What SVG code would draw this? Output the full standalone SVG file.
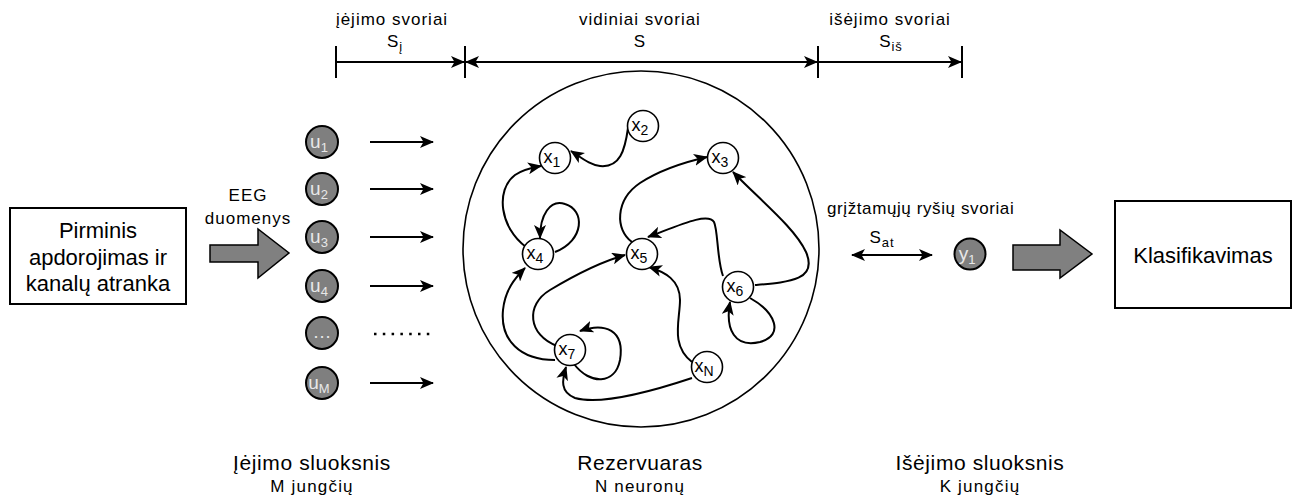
<svg xmlns="http://www.w3.org/2000/svg" width="1305" height="499" viewBox="0 0 1305 499">
<style>
text{font-family:"Liberation Sans",Arial,sans-serif;fill:#000}
.lbl{font-size:17px;text-anchor:middle;letter-spacing:1px}
.big{font-size:22px;text-anchor:middle}
.bot{font-size:21px;text-anchor:middle;letter-spacing:0.6px}
.sub{font-size:17px;text-anchor:middle;letter-spacing:1.2px}
.edge{fill:none;stroke:#000;stroke-width:2}
.ln{fill:none;stroke:#000;stroke-width:2}
.xn{fill:#fff;stroke:#000;stroke-width:1.6}
.gn{fill:#7f7f7f;stroke:#000;stroke-width:2}
.xt{font-size:18px;text-anchor:middle}
.ut{font-size:19px;text-anchor:middle;fill:#e8e8e8}
.box{fill:#fff;stroke:#000;stroke-width:2}
.fat{fill:#808080;stroke:#000;stroke-width:1.5}
</style>
<defs>
<marker id="ah" viewBox="0 0 14 12" refX="13" refY="6" markerWidth="14" markerHeight="12" markerUnits="userSpaceOnUse" orient="auto-start-reverse">
<path d="M0,0 L14,6 L0,12 L3.5,6 Z" fill="#000"/>
</marker>
</defs>

<g id="weights-bar">
<line class="ln" x1="336" y1="46" x2="336" y2="78"/>
<line class="ln" x1="465" y1="46" x2="465" y2="78"/>
<line class="ln" x1="818" y1="46" x2="818" y2="78"/>
<line class="ln" x1="962" y1="46" x2="962" y2="78"/>
<text class="lbl" x="392" y="25">įėjimo svoriai</text>
<text class="lbl" x="395" y="47">S<tspan font-size="13" dy="4">į</tspan></text>
<text class="lbl" x="640" y="25">vidiniai svoriai</text>
<text class="lbl" x="640" y="47">S</text>
<text class="lbl" x="890" y="25">išėjimo svoriai</text>
<text class="lbl" x="891" y="47">S<tspan font-size="13" dy="4">iš</tspan></text>
</g>

<g id="preproc">
<rect class="box" x="10" y="208" width="176" height="96"/>
<text class="big" x="98" y="238">Pirminis</text>
<text class="big" x="98" y="265">apdorojimas ir</text>
<text class="big" x="98" y="291">kanalų atranka</text>
</g>

<g id="eeg-arrow">
<path class="fat" d="M210,245 L258,245 L258,229 L289,253 L258,278 L258,262 L210,262 Z"/>
<text class="lbl" x="248" y="201">EEG</text>
<text class="lbl" x="248" y="224">duomenys</text>
</g>

<g id="input-layer">
<circle class="gn" cx="322" cy="142" r="16"/><text class="ut" x="319" y="148">u<tspan font-size="13" dy="4">1</tspan></text>
<circle class="gn" cx="322" cy="189" r="16"/><text class="ut" x="319" y="195">u<tspan font-size="13" dy="4">2</tspan></text>
<circle class="gn" cx="322" cy="237" r="16"/><text class="ut" x="319" y="243">u<tspan font-size="13" dy="4">3</tspan></text>
<circle class="gn" cx="322" cy="286" r="16"/><text class="ut" x="319" y="292">u<tspan font-size="13" dy="4">4</tspan></text>
<circle class="gn" cx="322" cy="333" r="16"/><text class="ut" x="322" y="338">…</text>
<circle class="gn" cx="322" cy="383" r="16"/><text class="ut" x="319" y="389">u<tspan font-size="13" dy="4">M</tspan></text>
</g>

<g id="input-arrows">
<line class="edge" x1="370" y1="142" x2="433" y2="142" marker-end="url(#ah)"/>
<line class="edge" x1="370" y1="189" x2="433" y2="189" marker-end="url(#ah)"/>
<line class="edge" x1="370" y1="237" x2="433" y2="237" marker-end="url(#ah)"/>
<line class="edge" x1="370" y1="286" x2="433" y2="286" marker-end="url(#ah)"/>
<line x1="374" y1="334" x2="432" y2="334" stroke="#000" stroke-width="2.5" stroke-dasharray="2.5,6.3"/>
<line class="edge" x1="370" y1="383" x2="433" y2="383" marker-end="url(#ah)"/>
</g>

<g id="top-arrows">
<line class="edge" x1="336" y1="62" x2="464" y2="62" marker-end="url(#ah)"/>
<line class="edge" x1="466" y1="62" x2="817" y2="62" marker-start="url(#ah)" marker-end="url(#ah)"/>
<line class="edge" x1="819" y1="62" x2="961" y2="62" marker-end="url(#ah)"/>
</g>

<g id="reservoir">
<circle cx="641" cy="249" r="178" fill="none" stroke="#000" stroke-width="1.6"/>
</g>

<g id="reservoir-edges">
<path class="edge" d="M628,128 C625,150 620,168 600,166 C590,165 582,158 571,151" marker-end="url(#ah)"/>
<path class="edge" d="M526,247 C500,228 495,190 515,175 C522,170 530,168 541,166" marker-end="url(#ah)"/>
<path class="edge" d="M555,252 C585,240 585,210 565,204 C550,199 540,215 540,238" marker-end="url(#ah)"/>
<path class="edge" d="M555,360 C520,360 500,340 503,310 C505,290 515,278 525,268" marker-end="url(#ah)"/>
<path class="edge" d="M557,346 C528,335 525,305 550,290 C575,275 600,262 625,255" marker-end="url(#ah)"/>
<path class="edge" d="M574,364 C590,385 615,385 620,360 C625,330 605,322 580,331" marker-end="url(#ah)"/>
<path class="edge" d="M692,378 C650,392 600,405 575,398 C560,392 562,380 566,367" marker-end="url(#ah)"/>
<path class="edge" d="M692,362 C670,345 680,320 680,300 C680,280 665,272 649,267" marker-end="url(#ah)"/>
<path class="edge" d="M632,242 C615,230 615,200 640,183 C660,170 685,162 707,157" marker-end="url(#ah)"/>
<path class="edge" d="M723,276 C717,260 718,230 714,222 C708,212 680,225 648,237" marker-end="url(#ah)"/>
<path class="edge" d="M755,285 C790,282 818,280 806,252 C795,228 760,200 733,172" marker-end="url(#ah)"/>
<path class="edge" d="M750,298 C775,312 785,335 760,342 C735,348 725,330 730,302" marker-end="url(#ah)"/>
</g>

<g id="x1"><circle class="xn" cx="555" cy="158" r="15.5"/><text class="xt" x="552" y="163">x<tspan font-size="14" dy="4">1</tspan></text></g>
<g id="x2"><circle class="xn" cx="643" cy="126" r="15.5"/><text class="xt" x="640" y="131">x<tspan font-size="14" dy="4">2</tspan></text></g>
<g id="x3"><circle class="xn" cx="723" cy="158" r="15.5"/><text class="xt" x="720" y="163">x<tspan font-size="14" dy="4">3</tspan></text></g>
<g id="x4"><circle class="xn" cx="538" cy="254" r="15.5"/><text class="xt" x="535" y="259">x<tspan font-size="14" dy="4">4</tspan></text></g>
<g id="x5"><circle class="xn" cx="642" cy="254" r="15.5"/><text class="xt" x="639" y="259">x<tspan font-size="14" dy="4">5</tspan></text></g>
<g id="x6"><circle class="xn" cx="738" cy="287" r="15.5"/><text class="xt" x="735" y="292">x<tspan font-size="14" dy="4">6</tspan></text></g>
<g id="x7"><circle class="xn" cx="570" cy="350" r="15.5"/><text class="xt" x="567" y="355">x<tspan font-size="14" dy="4">7</tspan></text></g>
<g id="xN"><circle class="xn" cx="707" cy="367" r="15.5"/><text class="xt" x="704" y="372">x<tspan font-size="14" dy="4">N</tspan></text></g>

<g id="feedback">
<text x="827" y="214" style="font-size:17px;letter-spacing:0.6px">grįžtamųjų ryšių svoriai</text>
<text class="lbl" x="882" y="243">S<tspan font-size="13" dy="4">at</tspan></text>
<line class="edge" x1="852" y1="255" x2="932" y2="255" marker-start="url(#ah)" marker-end="url(#ah)"/>
</g>

<g id="y1"><circle class="gn" cx="970" cy="254" r="15.5"/><text class="ut" x="967" y="260">y<tspan font-size="13" dy="4">1</tspan></text></g>

<g id="out-arrow">
<path class="fat" d="M1013,245 L1060,245 L1060,230 L1092,254 L1060,278 L1060,270 L1013,270 Z"/>
</g>

<g id="classify">
<rect class="box" x="1115" y="201" width="176" height="107"/>
<text class="big" x="1203" y="263">Klasifikavimas</text>
</g>

<g id="bottom-labels">
<text class="bot" x="312" y="470">Įėjimo sluoksnis</text>
<text class="sub" x="312" y="492">M jungčių</text>
<text class="bot" x="640" y="470">Rezervuaras</text>
<text class="sub" x="640" y="492">N neuronų</text>
<text class="bot" x="980" y="470">Išėjimo sluoksnis</text>
<text class="sub" x="980" y="492">K jungčių</text>
</g>
</svg>
